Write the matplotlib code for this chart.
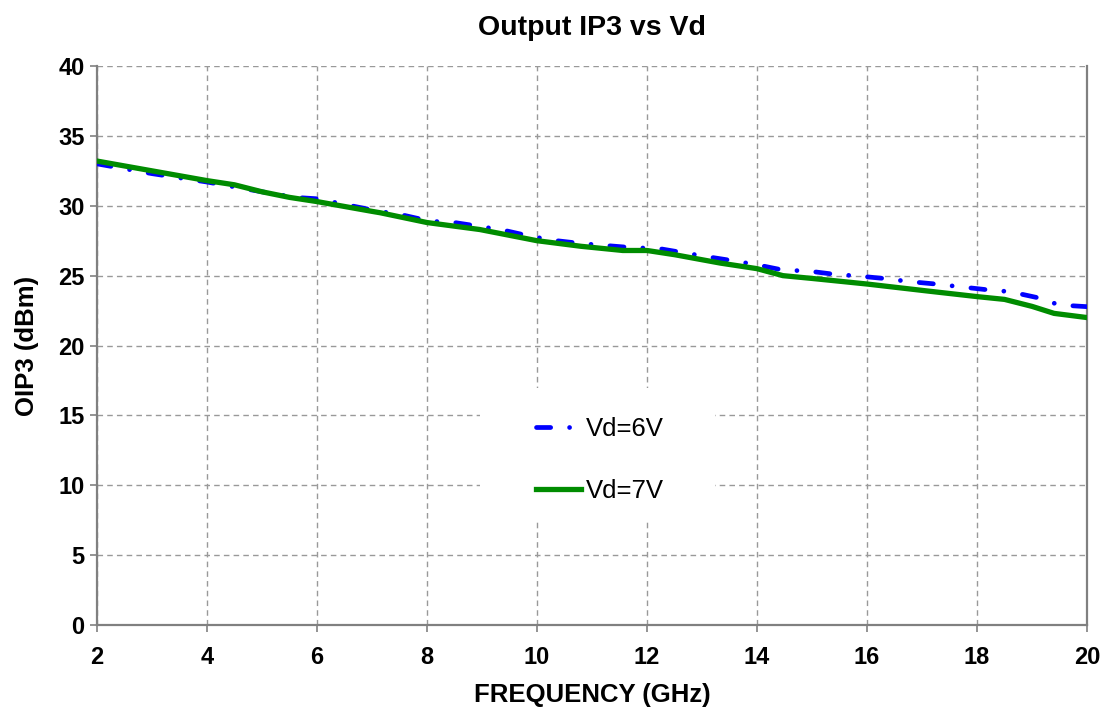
import numpy as np
import matplotlib.pyplot as plt
from matplotlib.patches import Rectangle

# Vd = 7V (solid green)
freq_7v = [2.0, 3.0, 4.0, 4.5, 5.0, 5.5, 6.0, 7.0, 7.15, 8.0, 8.96, 10.0, 10.8,
           11.56, 12.0, 12.5, 13.33, 14.0, 14.47, 15.0, 16.0, 17.1, 18.0, 18.5,
           19.0, 19.4, 20.0]
oip3_7v = [33.2, 32.5, 31.8, 31.5, 31.0, 30.6, 30.3, 29.6, 29.5, 28.8, 28.3, 27.5,
           27.1, 26.8, 26.8, 26.5, 25.9, 25.5, 25.0, 24.8, 24.4, 23.9, 23.5, 23.3,
           22.8, 22.3, 22.0]

# Vd = 6V (blue dash-dot)
freq_6v = [2.0, 3.0, 4.0, 5.0, 5.6, 6.0, 6.5, 7.0, 7.6, 8.05, 8.5, 9.0, 9.45,
           9.9, 10.36, 10.8, 11.27, 11.74, 12.2, 12.65, 13.1, 13.56, 14.02, 14.47,
           14.93, 15.4, 15.85, 16.3, 16.78, 17.25, 17.7, 18.16, 18.6, 19.07, 19.5,
           20.0]
oip3_6v = [33.0, 32.3, 31.7, 31.0, 30.6, 30.5, 30.1, 29.7, 29.3, 28.9, 28.8, 28.5,
           28.2, 27.8, 27.5, 27.3, 27.15, 27.0, 26.95, 26.65, 26.35, 26.07, 25.76,
           25.4, 25.33, 25.1, 24.97, 24.8, 24.57, 24.4, 24.2, 24.0, 23.85, 23.45,
           22.9, 22.78]

FONT = 'Liberation Sans'

fig = plt.figure(figsize=(11.07, 7.13), dpi=100)
ax = fig.add_axes([0.0876, 0.1234, 0.8944, 0.784])

ax.plot(freq_6v, oip3_6v, color='#0000FF', lw=3.4, zorder=3,
        dashes=(3.0, 4.0, 0.01, 4.0), dash_capstyle='round', label='Vd=6V')
ax.plot(freq_7v, oip3_7v, color='#008C00', lw=3.8, zorder=3, label='Vd=7V')

ax.set_xlim(2, 20)
ax.set_ylim(0, 40)
ax.set_xticks(np.arange(2, 21, 2))
ax.set_yticks(np.arange(0, 41, 5))
ax.grid(True, color='#999999', ls=(0, (4, 3)), lw=1)
ax.set_axisbelow(True)

for side in ['left', 'bottom', 'right']:
    ax.spines[side].set_color('#808080')
    ax.spines[side].set_linewidth(1.6)
ax.spines['top'].set_visible(False)
ax.tick_params(colors='#808080', labelcolor='black', length=5, width=1.2,
               labelsize=17)
ax.tick_params(axis='x', pad=10)
ax.tick_params(axis='y', pad=4)
for lab in ax.get_xticklabels() + ax.get_yticklabels():
    lab.set_fontweight('bold')
    lab.set_family(FONT)

ax.set_title('Output IP3 vs Vd', fontsize=20.5, fontweight='bold',
             family=FONT, pad=22)
ax.set_xlabel('FREQUENCY (GHz)', fontsize=18.5, fontweight='bold',
              family=FONT, labelpad=10)
ax.set_ylabel('OIP3 (dBm)', fontsize=18.5, fontweight='bold',
              family=FONT, labelpad=14)

# white legend box that hides the grid behind it
ax.add_patch(Rectangle((0.387, 0.188), 0.237, 0.236, transform=ax.transAxes,
                       facecolor='white', edgecolor='none', zorder=1.5))
leg = ax.legend(loc='center', bbox_to_anchor=(0.508, 0.295), frameon=False,
                prop={'family': FONT, 'size': 18.5},
                handlelength=1.75, handletextpad=0.2, labelspacing=1.5,
                borderpad=0, borderaxespad=0)

fig.savefig('out.png', dpi=100)
